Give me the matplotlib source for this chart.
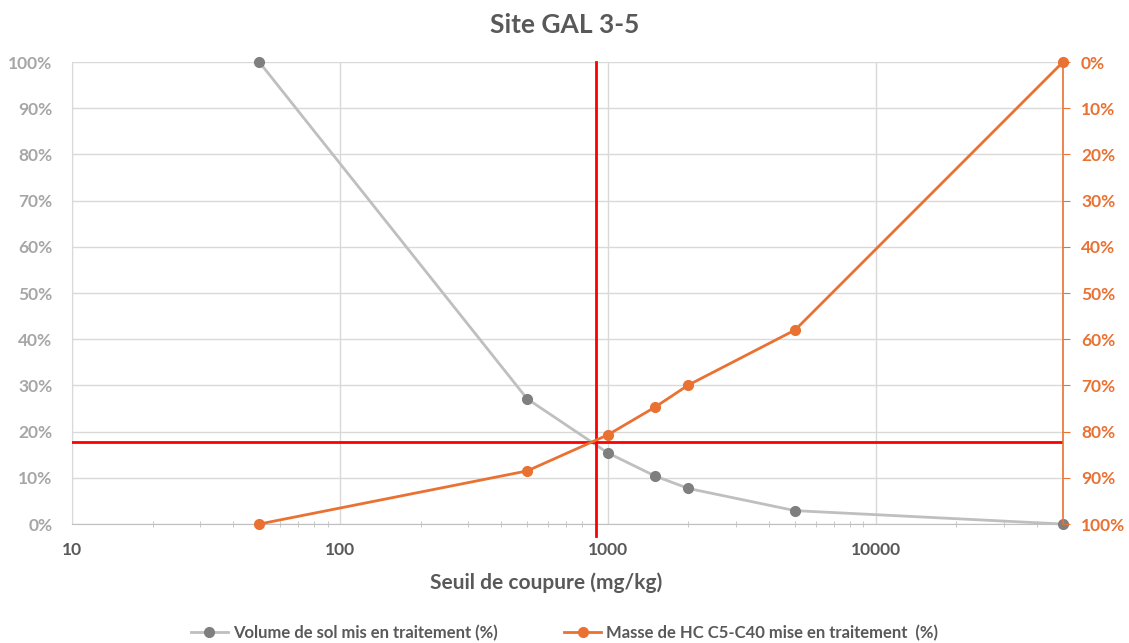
import matplotlib
matplotlib.use("Agg")
import matplotlib.pyplot as plt
from matplotlib.ticker import FixedLocator, NullFormatter

plt.rcParams['font.family'] = ['Lato', 'DejaVu Sans']
plt.rcParams['font.weight'] = 'bold'

## Data
seuils = [50, 500, 1000, 1500, 2000, 5000, 50000]
volume_sol = [100, 27.1, 15.4, 10.4, 7.7, 2.9, 0]
masse_hc = [100, 88.5, 80.7, 74.7, 69.9, 58.0, 0]   # axe de droite (inverse)
seuil_retenu = 900
pourcentage_retenu = 17.7
y_ticks = list(range(0, 101, 10))
y_labels = [str(v) + "%" for v in y_ticks]
x_ticks = [10, 100, 1000, 10000]
x_labels = ["10", "100", "1000", "10000"]

gris_ligne = "#BFBFBF"
gris_point = "#7F7F7F"
orange = "#E97132"
texte = "#595959"
grille = "#D9D9D9"

fig = plt.figure(figsize=(11.29, 6.43), dpi=100)
ax = fig.add_axes([0.0638, 0.185, 0.8777, 0.7185])
ax2 = ax.twinx()

ax.set_xscale("log")
ax.set_xlim(10, 50000)
ax.set_ylim(0, 100)
ax2.set_ylim(100, 0)

ax.plot(seuils, volume_sol, color=gris_ligne, lw=2, marker="o", ms=7,
        mfc=gris_point, mec=gris_point, zorder=3, clip_on=False,
        label="Volume de sol mis en traitement (%)")
ax2.plot(seuils, masse_hc, color=orange, lw=2, marker="o", ms=7,
         mfc=orange, mec=orange, zorder=3, clip_on=False,
         label="Masse de HC C5-C40 mise en traitement  (%)")

ax.axvline(seuil_retenu, ymin=-0.025, ymax=1, color="red", lw=2, clip_on=False, zorder=4)
ax.axhline(pourcentage_retenu, color="red", lw=2, zorder=4)

# grid & ticks
ax.set_yticks(y_ticks)
ax.set_yticklabels(y_labels)
ax2.set_yticks(y_ticks)
ax2.set_yticklabels(y_labels)
ax.xaxis.set_major_locator(FixedLocator(x_ticks))
ax.set_xticklabels(x_labels)
minors = [m * d for d in [10, 100, 1000, 10000] for m in range(2, 10) if m * d < 50000]
ax.xaxis.set_minor_locator(FixedLocator(minors))
ax.xaxis.set_minor_formatter(NullFormatter())
ax.grid(True, which="major", color=grille, lw=1)
ax.set_axisbelow(True)

for s in ["top", "right"]:
    ax.spines[s].set_visible(False)
for s in ["top", "left", "bottom"]:
    ax2.spines[s].set_visible(False)
ax.spines["left"].set_color(grille)
ax.spines["bottom"].set_color("#BFBFBF")
ax2.spines["right"].set_color(orange)
ax2.spines["right"].set_linewidth(1.2)

ax.tick_params(axis="y", length=0, colors="#A6A6A6", labelsize=12.5, pad=14)
ax.tick_params(axis="x", which="major", length=0, colors=texte, labelsize=12.5, pad=13)
ax.tick_params(axis="x", which="minor", length=5, direction="inout", color="#BFBFBF")
ax2.tick_params(axis="y", length=5, color=orange, labelcolor=orange, labelsize=12.5, pad=8)

for lab in ax.get_yticklabels() + ax.get_xticklabels() + ax2.get_yticklabels():
    lab.set_fontweight("bold")

ax.set_xlabel("Seuil de coupure (mg/kg)", fontsize=15, color=texte, fontweight="bold")
ax.xaxis.set_label_coords(0.478, -0.105)
fig.suptitle("Site GAL 3-5", fontsize=19, color=texte, fontweight="bold", y=0.98)

h1, l1 = ax.get_legend_handles_labels()
h2, l2 = ax2.get_legend_handles_labels()
fig.legend(h1 + h2, l1 + l2, loc="lower center", bbox_to_anchor=(0.5, -0.02), ncol=2,
           frameon=False, labelcolor=texte, columnspacing=4,
           handlelength=2.2, handletextpad=0.3, prop={"weight": "bold", "size": 12})

fig.savefig("out.png", dpi=100)
